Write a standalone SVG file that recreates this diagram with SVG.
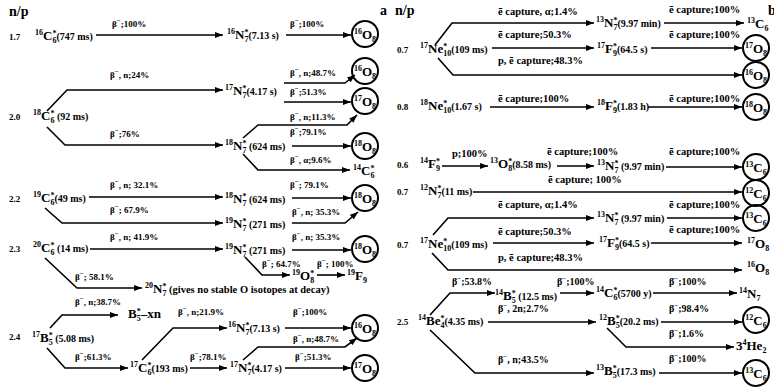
<svg xmlns="http://www.w3.org/2000/svg" width="774" height="389" viewBox="0 0 774 389">
<defs>
<marker id="ah" viewBox="0 0 8 6" refX="8" refY="3" markerWidth="8" markerHeight="6" markerUnits="userSpaceOnUse" orient="auto"><path d="M0,0L8,3L0,6z" fill="#000"/></marker>
<style>
text{font-family:"Liberation Serif","Times New Roman",serif;font-weight:bold;fill:#000}
.nu{font-size:13px}
.sm{font-size:8px}
.hl{font-size:10px}
.lb{font-size:9px}
.r{font-size:10px}
.ec{font-size:10.5px}
.mi{font-size:7px}
.np{font-size:9px}
.hd{font-size:14px}
.mid{text-anchor:middle}
#connectors line,#connectors polyline{fill:none;stroke:#000;stroke-width:1.6;marker-end:url(#ah)}
circle{fill:none;stroke:#000;stroke-width:2}
</style>
</defs>
<rect width="774" height="389" fill="#fff"/>
<g id="headers">
<text class="hd" x="9" y="16">n/p</text>
<text class="hd" x="380" y="15">a</text>
<text class="hd" x="395" y="15">n/p</text>
<text class="hd" x="768" y="15">b</text>
<text class="np" x="9" y="40">1.7</text>
<text class="np" x="9" y="120">2.0</text>
<text class="np" x="9" y="202">2.2</text>
<text class="np" x="9" y="252">2.3</text>
<text class="np" x="9" y="340">2.4</text>
<text class="np" x="397" y="53">0.7</text>
<text class="np" x="397" y="110">0.8</text>
<text class="np" x="397" y="168">0.6</text>
<text class="np" x="397" y="195">0.7</text>
<text class="np" x="397" y="248">0.7</text>
<text class="np" x="397" y="325">2.5</text>
</g>
<g id="connectors">
<line x1="96" y1="35" x2="223" y2="35"/>
<line x1="286" y1="35" x2="351" y2="35"/>
<polyline points="47,111 67,90 223,90"/>
<polyline points="284,83 345,83 355,75"/>
<line x1="284" y1="102" x2="351" y2="102"/>
<polyline points="47,127 65,145 223,145"/>
<polyline points="243,138 258,125 347,125 357,115"/>
<line x1="292" y1="146" x2="351" y2="146"/>
<polyline points="243,154 258,170 350,170"/>
<line x1="89" y1="197" x2="223" y2="197"/>
<polyline points="45,208 62,223 223,223"/>
<line x1="292" y1="198" x2="351" y2="198"/>
<polyline points="292,223 345,223 358,212"/>
<line x1="90" y1="249" x2="223" y2="249"/>
<line x1="292" y1="250" x2="351" y2="250"/>
<polyline points="245,257 262,275 290,275"/>
<line x1="317" y1="275" x2="345" y2="275"/>
<polyline points="45,258 77,288 142,288"/>
<polyline points="50,328 62,315 118,315"/>
<polyline points="47,348 65,368 128,368"/>
<polyline points="142,360 173,328 227,328"/>
<line x1="285" y1="328" x2="351" y2="328"/>
<line x1="190" y1="368" x2="227" y2="368"/>
<polyline points="243,360 258,347 345,347 357,338"/>
<line x1="285" y1="368" x2="351" y2="368"/>
<polyline points="435,45 452,23 594,23"/>
<line x1="664" y1="23" x2="744" y2="23"/>
<line x1="492" y1="48" x2="594" y2="48"/>
<line x1="651" y1="48" x2="742" y2="48"/>
<polyline points="438,58 453,75 742,75"/>
<line x1="490" y1="107" x2="594" y2="107"/>
<line x1="648" y1="107" x2="742" y2="107"/>
<line x1="442" y1="166" x2="488" y2="166"/>
<line x1="557" y1="166" x2="594" y2="166"/>
<line x1="666" y1="167" x2="742" y2="167"/>
<line x1="473" y1="192" x2="742" y2="192"/>
<polyline points="433,235 448,218 594,218"/>
<line x1="667" y1="218" x2="742" y2="218"/>
<line x1="493" y1="243" x2="594" y2="243"/>
<line x1="651" y1="243" x2="742" y2="243"/>
<polyline points="432,253 448,270 742,270"/>
<polyline points="430,315 450,293 495,293"/>
<line x1="560" y1="293" x2="594" y2="293"/>
<line x1="653" y1="293" x2="737" y2="293"/>
<line x1="488" y1="322" x2="596" y2="322"/>
<line x1="661" y1="322" x2="742" y2="322"/>
<polyline points="607,328 626,347 734,347"/>
<polyline points="430,330 475,373 594,373"/>
<line x1="659" y1="373" x2="742" y2="373"/>
</g>
<g id="edge-labels">
<text class="lb" x="112" y="27">β<tspan class="mi" dy="-4">−</tspan><tspan dy="4">;100%</tspan></text>
<text class="lb" x="290" y="27">β<tspan class="mi" dy="-4">−</tspan><tspan dy="4">;100%</tspan></text>
<text class="lb" x="110" y="78">β<tspan class="mi" dy="-4">−</tspan><tspan dy="4">, n;24%</tspan></text>
<text class="lb" x="290" y="76">β<tspan class="mi" dy="-4">−</tspan><tspan dy="4">, n;48.7%</tspan></text>
<text class="lb" x="290" y="95">β<tspan class="mi" dy="-4">−</tspan><tspan dy="4">;51.3%</tspan></text>
<text class="lb" x="110" y="137">β<tspan class="mi" dy="-4">−</tspan><tspan dy="4">;76%</tspan></text>
<text class="lb" x="290" y="120">β<tspan class="mi" dy="-4">−</tspan><tspan dy="4">, n;11.3%</tspan></text>
<text class="lb" x="290" y="135">β<tspan class="mi" dy="-4">−</tspan><tspan dy="4">;79.1%</tspan></text>
<text class="lb" x="290" y="163">β<tspan class="mi" dy="-4">−</tspan><tspan dy="4">, α;9.6%</tspan></text>
<text class="lb" x="110" y="188">β<tspan class="mi" dy="-4">−</tspan><tspan dy="4">, n; 32.1%</tspan></text>
<text class="lb" x="110" y="213">β<tspan class="mi" dy="-4">−</tspan><tspan dy="4">; 67.9%</tspan></text>
<text class="lb" x="290" y="188">β<tspan class="mi" dy="-4">−</tspan><tspan dy="4">; 79.1%</tspan></text>
<text class="lb" x="292" y="215">β<tspan class="mi" dy="-4">−</tspan><tspan dy="4">, n; 35.3%</tspan></text>
<text class="lb" x="110" y="240">β<tspan class="mi" dy="-4">−</tspan><tspan dy="4">, n; 41.9%</tspan></text>
<text class="lb" x="292" y="240">β<tspan class="mi" dy="-4">−</tspan><tspan dy="4">, n; 35.3%</tspan></text>
<text class="lb" x="262" y="267">β<tspan class="mi" dy="-4">−</tspan><tspan dy="4">; 64.7%</tspan></text>
<text class="lb" x="317" y="267">β<tspan class="mi" dy="-4">−</tspan><tspan dy="4">; 100%</tspan></text>
<text class="lb" x="75" y="280">β<tspan class="mi" dy="-4">−</tspan><tspan dy="4">; 58.1%</tspan></text>
<text class="lb" x="75" y="305">β<tspan class="mi" dy="-4">−</tspan><tspan dy="4">, n;38.7%</tspan></text>
<text class="lb" x="75" y="360">β<tspan class="mi" dy="-4">−</tspan><tspan dy="4">;61.3%</tspan></text>
<text class="lb" x="178" y="315">β<tspan class="mi" dy="-4">−</tspan><tspan dy="4">, n;21.9%</tspan></text>
<text class="lb" x="293" y="315">β<tspan class="mi" dy="-4">−</tspan><tspan dy="4">;100%</tspan></text>
<text class="lb" x="190" y="360">β<tspan class="mi" dy="-4">−</tspan><tspan dy="4">;78.1%</tspan></text>
<text class="lb" x="293" y="342">β<tspan class="mi" dy="-4">−</tspan><tspan dy="4">, n;48.7%</tspan></text>
<text class="lb" x="295" y="360">β<tspan class="mi" dy="-4">−</tspan><tspan dy="4">;51.3%</tspan></text>
<text class="ec" x="498" y="15">ē capture, α;1.4%</text>
<text class="ec" x="669" y="13">ē capture;100%</text>
<text class="ec" x="498" y="38">ē capture;50.3%</text>
<text class="ec" x="669" y="38">ē capture;100%</text>
<text class="ec" x="498" y="64">p, ē capture;48.3%</text>
<text class="ec" x="498" y="102">ē capture;100%</text>
<text class="ec" x="669" y="102">ē capture;100%</text>
<text class="ec" x="452" y="157">p;100%</text>
<text class="ec" x="547" y="155">ē capture;100%</text>
<text class="ec" x="669" y="155">ē capture;100%</text>
<text class="ec" x="548" y="183">ē capture; 100%</text>
<text class="ec" x="498" y="208">ē capture, α;1.4%</text>
<text class="ec" x="669" y="208">ē capture;100%</text>
<text class="ec" x="498" y="235">ē capture;50.3%</text>
<text class="ec" x="669" y="233">ē capture;100%</text>
<text class="ec" x="498" y="261">p, ē capture;48.3%</text>
<text class="r" x="452" y="285">β<tspan class="mi" dy="-4">−</tspan><tspan dy="4">;53.8%</tspan></text>
<text class="r" x="557" y="285">β<tspan class="mi" dy="-4">−</tspan><tspan dy="4">;100%</tspan></text>
<text class="r" x="669" y="285">β<tspan class="mi" dy="-4">−</tspan><tspan dy="4">;100%</tspan></text>
<text class="r" x="498" y="312">β<tspan class="mi" dy="-4">−</tspan><tspan dy="4">, 2n;2.7%</tspan></text>
<text class="r" x="669" y="312">β<tspan class="mi" dy="-4">−</tspan><tspan dy="4">;98.4%</tspan></text>
<text class="r" x="669" y="337">β<tspan class="mi" dy="-4">−</tspan><tspan dy="4">;1.6%</tspan></text>
<text class="r" x="498" y="363">β<tspan class="mi" dy="-4">−</tspan><tspan dy="4">, n;43.5%</tspan></text>
<text class="r" x="669" y="362">β<tspan class="mi" dy="-4">−</tspan><tspan dy="4">;100%</tspan></text>
</g>
<g id="panel-a">
<g id="n-16C6"><text class="nu" x="35" y="40"><tspan class="sm" dy="-5">16</tspan><tspan dy="5">C</tspan><tspan class="sm" dy="-4">*</tspan><tspan class="sm" dx="-4" dy="7">6</tspan><tspan class="hl" dy="-3">(747 ms)</tspan></text></g>
<g id="n-16N7-a"><text class="nu" x="227" y="39"><tspan class="sm" dy="-5">16</tspan><tspan dy="5">N</tspan><tspan class="sm" dy="-4">*</tspan><tspan class="sm" dx="-4" dy="7">7</tspan><tspan class="hl" dy="-3">(7.13 s)</tspan></text></g>
<g id="n-16O8-a"><circle cx="365" cy="34" r="13"/><text class="nu mid" x="365" y="39"><tspan class="sm" dy="-5">16</tspan><tspan dy="5">O</tspan><tspan class="sm" dy="3">8</tspan></text></g>
<g id="n-18C6"><text class="nu" x="33" y="120"><tspan class="sm" dy="-5">18</tspan><tspan dy="5">C</tspan><tspan class="sm" dy="-4">*</tspan><tspan class="sm" dx="-4" dy="7">6</tspan><tspan class="hl" dy="-3"> (92 ms)</tspan></text></g>
<g id="n-17N7-a"><text class="nu" x="225" y="95"><tspan class="sm" dy="-5">17</tspan><tspan dy="5">N</tspan><tspan class="sm" dy="-4">*</tspan><tspan class="sm" dx="-4" dy="7">7</tspan><tspan class="hl" dy="-3">(4.17 s)</tspan></text></g>
<g id="n-16O8-b"><circle cx="365" cy="71" r="13"/><text class="nu mid" x="365" y="76"><tspan class="sm" dy="-5">16</tspan><tspan dy="5">O</tspan><tspan class="sm" dy="3">8</tspan></text></g>
<g id="n-17O8-a"><circle cx="365" cy="101" r="13"/><text class="nu mid" x="365" y="106"><tspan class="sm" dy="-5">17</tspan><tspan dy="5">O</tspan><tspan class="sm" dy="3">8</tspan></text></g>
<g id="n-18N7-a"><text class="nu" x="225" y="150"><tspan class="sm" dy="-5">18</tspan><tspan dy="5">N</tspan><tspan class="sm" dy="-4">*</tspan><tspan class="sm" dx="-4" dy="7">7</tspan><tspan class="hl" dy="-3"> (624 ms)</tspan></text></g>
<g id="n-18O8-a"><circle cx="365" cy="146" r="13"/><text class="nu mid" x="365" y="151"><tspan class="sm" dy="-5">18</tspan><tspan dy="5">O</tspan><tspan class="sm" dy="3">8</tspan></text></g>
<g id="n-14C6-a"><text class="nu" x="353" y="175"><tspan class="sm" dy="-5">14</tspan><tspan dy="5">C</tspan><tspan class="sm" dy="-4">*</tspan><tspan class="sm" dx="-4" dy="7">6</tspan></text></g>
<g id="n-19C6"><text class="nu" x="33" y="202"><tspan class="sm" dy="-5">19</tspan><tspan dy="5">C</tspan><tspan class="sm" dy="-4">*</tspan><tspan class="sm" dx="-4" dy="7">6</tspan><tspan class="hl" dy="-3">(49 ms)</tspan></text></g>
<g id="n-18N7-b"><text class="nu" x="225" y="203"><tspan class="sm" dy="-5">18</tspan><tspan dy="5">N</tspan><tspan class="sm" dy="-4">*</tspan><tspan class="sm" dx="-4" dy="7">7</tspan><tspan class="hl" dy="-3"> (624 ms)</tspan></text></g>
<g id="n-18O8-b"><circle cx="365" cy="198" r="13"/><text class="nu mid" x="365" y="203"><tspan class="sm" dy="-5">18</tspan><tspan dy="5">O</tspan><tspan class="sm" dy="3">8</tspan></text></g>
<g id="n-19N7-a"><text class="nu" x="225" y="228"><tspan class="sm" dy="-5">19</tspan><tspan dy="5">N</tspan><tspan class="sm" dy="-4">*</tspan><tspan class="sm" dx="-4" dy="7">7</tspan><tspan class="hl" dy="-3"> (271 ms)</tspan></text></g>
<g id="n-20C6"><text class="nu" x="33" y="252"><tspan class="sm" dy="-5">20</tspan><tspan dy="5">C</tspan><tspan class="sm" dy="-4">*</tspan><tspan class="sm" dx="-4" dy="7">6</tspan><tspan class="hl" dy="-3"> (14 ms)</tspan></text></g>
<g id="n-19N7-b"><text class="nu" x="225" y="254"><tspan class="sm" dy="-5">19</tspan><tspan dy="5">N</tspan><tspan class="sm" dy="-4">*</tspan><tspan class="sm" dx="-4" dy="7">7</tspan><tspan class="hl" dy="-3"> (271 ms)</tspan></text></g>
<g id="n-18O8-c"><circle cx="365" cy="249" r="13"/><text class="nu mid" x="365" y="254"><tspan class="sm" dy="-5">18</tspan><tspan dy="5">O</tspan><tspan class="sm" dy="3">8</tspan></text></g>
<g id="n-19O8"><text class="nu" x="292" y="280"><tspan class="sm" dy="-5">19</tspan><tspan dy="5">O</tspan><tspan class="sm" dy="-4">*</tspan><tspan class="sm" dx="-4" dy="7">8</tspan></text></g>
<g id="n-19F9"><text class="nu" x="347" y="280"><tspan class="sm" dy="-5">19</tspan><tspan dy="5">F</tspan><tspan class="sm" dy="3">9</tspan></text></g>
<g id="n-20N7"><text class="nu" x="145" y="293"><tspan class="sm" dy="-5">20</tspan><tspan dy="5">N</tspan><tspan class="sm" dy="-4">*</tspan><tspan class="sm" dx="-4" dy="7">7</tspan><tspan class="hl" dy="-3" style="font-size:10.5px"> (gives no stable O isotopes at decay)</tspan></text></g>
<g id="n-17B5"><text class="nu" x="32" y="342"><tspan class="sm" dy="-5">17</tspan><tspan dy="5">B</tspan><tspan class="sm" dy="-4">*</tspan><tspan class="sm" dx="-4" dy="7">5</tspan><tspan class="hl" dy="-3"> (5.08 ms)</tspan></text></g>
<g id="n-B5-xn"><text class="nu" x="128" y="318">B<tspan class="sm" dy="-4">*</tspan><tspan class="sm" dx="-4" dy="7">5</tspan><tspan dy="-3">–xn</tspan></text></g>
<g id="n-17C6"><text class="nu" x="130" y="372"><tspan class="sm" dy="-5">17</tspan><tspan dy="5">C</tspan><tspan class="sm" dy="-4">*</tspan><tspan class="sm" dx="-4" dy="7">6</tspan><tspan class="hl" dy="-3">(193 ms)</tspan></text></g>
<g id="n-16N7-b"><text class="nu" x="228" y="332"><tspan class="sm" dy="-5">16</tspan><tspan dy="5">N</tspan><tspan class="sm" dy="-4">*</tspan><tspan class="sm" dx="-4" dy="7">7</tspan><tspan class="hl" dy="-3">(7.13 s)</tspan></text></g>
<g id="n-16O8-c"><circle cx="365" cy="328" r="13"/><text class="nu mid" x="365" y="333"><tspan class="sm" dy="-5">16</tspan><tspan dy="5">O</tspan><tspan class="sm" dy="3">8</tspan></text></g>
<g id="n-17N7-b"><text class="nu" x="230" y="372"><tspan class="sm" dy="-5">17</tspan><tspan dy="5">N</tspan><tspan class="sm" dy="-4">*</tspan><tspan class="sm" dx="-4" dy="7">7</tspan><tspan class="hl" dy="-3">(4.17 s)</tspan></text></g>
<g id="n-17O8-b"><circle cx="365" cy="368" r="13"/><text class="nu mid" x="365" y="373"><tspan class="sm" dy="-5">17</tspan><tspan dy="5">O</tspan><tspan class="sm" dy="3">8</tspan></text></g>
</g>
<g id="panel-b">
<g id="n-17Ne10-a"><text class="nu" x="420" y="53"><tspan class="sm" dy="-5">17</tspan><tspan dy="5">Ne</tspan><tspan class="sm" dy="-4">*</tspan><tspan class="sm" dx="-4" dy="7">10</tspan><tspan class="hl" dy="-3">(109 ms)</tspan></text></g>
<g id="n-13N7-a"><text class="nu" x="596" y="27"><tspan class="sm" dy="-5">13</tspan><tspan dy="5">N</tspan><tspan class="sm" dy="-4">*</tspan><tspan class="sm" dx="-4" dy="7">7</tspan><tspan class="hl" dy="-3">(9.97 min)</tspan></text></g>
<g id="n-13C6-a"><text class="nu" x="747" y="28"><tspan class="sm" dy="-5">13</tspan><tspan dy="5">C</tspan><tspan class="sm" dy="3">6</tspan></text></g>
<g id="n-17F9-a"><text class="nu" x="597" y="53"><tspan class="sm" dy="-5">17</tspan><tspan dy="5">F</tspan><tspan class="sm" dy="-4">*</tspan><tspan class="sm" dx="-4" dy="7">9</tspan><tspan class="hl" dy="-3">(64.5 s)</tspan></text></g>
<g id="n-17O8-c"><circle cx="756" cy="48" r="13"/><text class="nu mid" x="756" y="53"><tspan class="sm" dy="-5">17</tspan><tspan dy="5">O</tspan><tspan class="sm" dy="3">8</tspan></text></g>
<g id="n-16O8-d"><circle cx="756" cy="75" r="13"/><text class="nu mid" x="756" y="80"><tspan class="sm" dy="-5">16</tspan><tspan dy="5">O</tspan><tspan class="sm" dy="3">8</tspan></text></g>
<g id="n-18Ne10"><text class="nu" x="420" y="110"><tspan class="sm" dy="-5">18</tspan><tspan dy="5">Ne</tspan><tspan class="sm" dy="-4">*</tspan><tspan class="sm" dx="-4" dy="7">10</tspan><tspan class="hl" dy="-3">(1.67 s)</tspan></text></g>
<g id="n-18F9"><text class="nu" x="597" y="110"><tspan class="sm" dy="-5">18</tspan><tspan dy="5">F</tspan><tspan class="sm" dy="-4">*</tspan><tspan class="sm" dx="-4" dy="7">9</tspan><tspan class="hl" dy="-3">(1.83 h)</tspan></text></g>
<g id="n-18O8-d"><circle cx="756" cy="107" r="13"/><text class="nu mid" x="756" y="112"><tspan class="sm" dy="-5">18</tspan><tspan dy="5">O</tspan><tspan class="sm" dy="3">8</tspan></text></g>
<g id="n-14F9"><text class="nu" x="420" y="168"><tspan class="sm" dy="-5">14</tspan><tspan dy="5">F</tspan><tspan class="sm" dy="-4">*</tspan><tspan class="sm" dx="-4" dy="7">9</tspan></text></g>
<g id="n-13O8"><text class="nu" x="490" y="168"><tspan class="sm" dy="-5">13</tspan><tspan dy="5">O</tspan><tspan class="sm" dy="-4">*</tspan><tspan class="sm" dx="-4" dy="7">8</tspan><tspan class="hl" dy="-3">(8.58 ms)</tspan></text></g>
<g id="n-13N7-b"><text class="nu" x="597" y="170"><tspan class="sm" dy="-5">13</tspan><tspan dy="5">N</tspan><tspan class="sm" dy="-4">*</tspan><tspan class="sm" dx="-4" dy="7">7</tspan><tspan class="hl" dy="-3"> (9.97 min)</tspan></text></g>
<g id="n-13C6-b"><circle cx="756" cy="167" r="13"/><text class="nu mid" x="756" y="172"><tspan class="sm" dy="-5">13</tspan><tspan dy="5">C</tspan><tspan class="sm" dy="3">6</tspan></text></g>
<g id="n-12N7"><text class="nu" x="420" y="195"><tspan class="sm" dy="-5">12</tspan><tspan dy="5">N</tspan><tspan class="sm" dy="-4">*</tspan><tspan class="sm" dx="-4" dy="7">7</tspan><tspan class="hl" dy="-3">(11 ms)</tspan></text></g>
<g id="n-12C6-a"><circle cx="756" cy="193" r="13"/><text class="nu mid" x="756" y="198"><tspan class="sm" dy="-5">12</tspan><tspan dy="5">C</tspan><tspan class="sm" dy="3">6</tspan></text></g>
<g id="n-17Ne10-b"><text class="nu" x="420" y="248"><tspan class="sm" dy="-5">17</tspan><tspan dy="5">Ne</tspan><tspan class="sm" dy="-4">*</tspan><tspan class="sm" dx="-4" dy="7">10</tspan><tspan class="hl" dy="-3">(109 ms)</tspan></text></g>
<g id="n-13N7-c"><text class="nu" x="597" y="222"><tspan class="sm" dy="-5">13</tspan><tspan dy="5">N</tspan><tspan class="sm" dy="-4">*</tspan><tspan class="sm" dx="-4" dy="7">7</tspan><tspan class="hl" dy="-3"> (9.97 min)</tspan></text></g>
<g id="n-13C6-c"><circle cx="756" cy="218" r="13"/><text class="nu mid" x="756" y="223"><tspan class="sm" dy="-5">13</tspan><tspan dy="5">C</tspan><tspan class="sm" dy="3">6</tspan></text></g>
<g id="n-17F9-b"><text class="nu" x="599" y="247"><tspan class="sm" dy="-5">17</tspan><tspan dy="5">F</tspan><tspan class="sm" dy="-4">*</tspan><tspan class="sm" dx="-4" dy="7">9</tspan><tspan class="hl" dy="-3">(64.5 s)</tspan></text></g>
<g id="n-17O8-d"><text class="nu" x="747" y="248"><tspan class="sm" dy="-5">17</tspan><tspan dy="5">O</tspan><tspan class="sm" dy="3">8</tspan></text></g>
<g id="n-16O8-e"><text class="nu" x="747" y="272"><tspan class="sm" dy="-5">16</tspan><tspan dy="5">O</tspan><tspan class="sm" dy="3">8</tspan></text></g>
<g id="n-14Be4"><text class="nu" x="418" y="325"><tspan class="sm" dy="-5">14</tspan><tspan dy="5">Be</tspan><tspan class="sm" dy="-4">*</tspan><tspan class="sm" dx="-4" dy="7">4</tspan><tspan class="hl" dy="-3">(4.35 ms)</tspan></text></g>
<g id="n-14B5"><text class="nu" x="495" y="300"><tspan class="sm" dy="-5">14</tspan><tspan dy="5">B</tspan><tspan class="sm" dy="-4">*</tspan><tspan class="sm" dx="-4" dy="7">5</tspan><tspan class="hl" dy="-3"> (12.5 ms)</tspan></text></g>
<g id="n-14C6-b"><text class="nu" x="596" y="297"><tspan class="sm" dy="-5">14</tspan><tspan dy="5">C</tspan><tspan class="sm" dy="-4">*</tspan><tspan class="sm" dx="-4" dy="7">6</tspan><tspan class="hl" dy="-3">(5700 y)</tspan></text></g>
<g id="n-14N7"><text class="nu" x="739" y="298"><tspan class="sm" dy="-5">14</tspan><tspan dy="5">N</tspan><tspan class="sm" dy="3">7</tspan></text></g>
<g id="n-12B5"><text class="nu" x="599" y="325"><tspan class="sm" dy="-5">12</tspan><tspan dy="5">B</tspan><tspan class="sm" dy="-4">*</tspan><tspan class="sm" dx="-4" dy="7">5</tspan><tspan class="hl" dy="-3">(20.2 ms)</tspan></text></g>
<g id="n-12C6-b"><circle cx="756" cy="320" r="13"/><text class="nu mid" x="756" y="325"><tspan class="sm" dy="-5">12</tspan><tspan dy="5">C</tspan><tspan class="sm" dy="3">6</tspan></text></g>
<g id="n-3He2"><text class="nu" x="736" y="350">3<tspan class="sm" dy="-5">4</tspan><tspan dy="5">He</tspan><tspan class="sm" dy="3">2</tspan></text></g>
<g id="n-13B5"><text class="nu" x="596" y="375"><tspan class="sm" dy="-5">13</tspan><tspan dy="5">B</tspan><tspan class="sm" dy="-4">*</tspan><tspan class="sm" dx="-4" dy="7">5</tspan><tspan class="hl" dy="-3">(17.3 ms)</tspan></text></g>
<g id="n-13C6-d"><circle cx="756" cy="373" r="13"/><text class="nu mid" x="756" y="378"><tspan class="sm" dy="-5">13</tspan><tspan dy="5">C</tspan><tspan class="sm" dy="3">6</tspan></text></g>
</g>
</svg>
